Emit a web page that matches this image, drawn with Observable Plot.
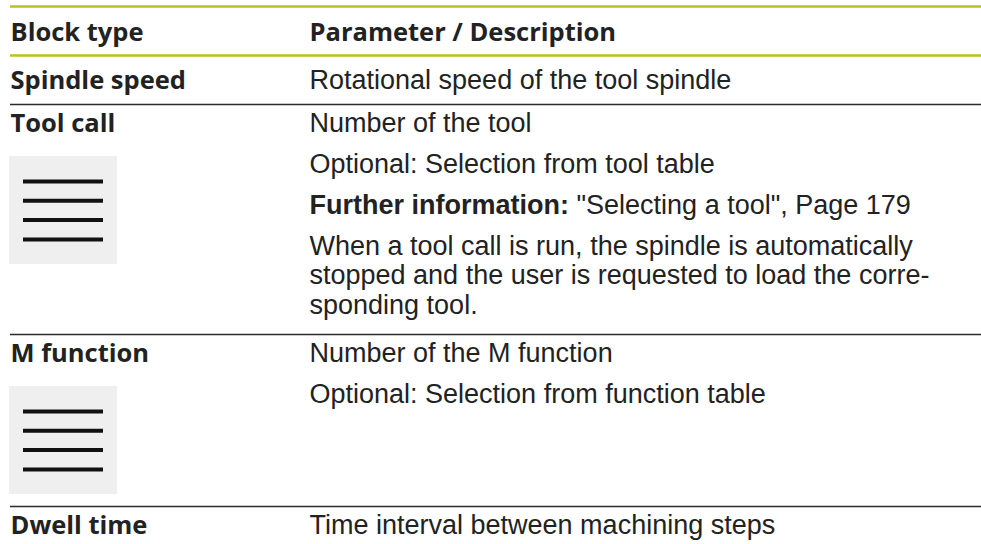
<!DOCTYPE html>
<html>
<head>
<meta charset="utf-8">
<script src="https://cdn.jsdelivr.net/npm/d3@7"></script>
<script src="https://cdn.jsdelivr.net/npm/@observablehq/plot@0.6"></script>
<style>
  html, body { margin: 0; padding: 0; background: #ffffff; }
  #chart svg { display: block; background: #ffffff; }
</style>
</head>
<body>
<div id="chart"></div>
<script>
// ---------- content ----------
const headers = ["Block type", "Parameter / Description"];
const blockTypes = ["Spindle speed", "Tool call", "M function", "Dwell time"];
const hasIcon = [false, true, true, false];
const descriptions = [
  [ {lines: ["Rotational speed of the tool spindle"]} ],
  [ {lines: ["Number of the tool"]},
    {lines: ["Optional: Selection from tool table"]},
    {lead: "Further information:", lines: ['"Selecting a tool", Page 179']},
    {lines: ["When a tool call is run, the spindle is automatically",
             "stopped and the user is requested to load the corre-",
             "sponding tool."]} ],
  [ {lines: ["Number of the M function"]},
    {lines: ["Optional: Selection from function table"]} ],
  [ {lines: ["Time interval between machining steps"]} ]
];
const iconBars = 4;

// ---------- layout ----------
const W = 981, H = 544;
const col1X = 10, col2X = 309, ruleX1 = 10, ruleX2 = W;
const fontSize = 27;
const regFont = "'Liberation Sans', Arial, sans-serif";
const boldFont = "'Open Sans', 'Noto Sans', sans-serif";
const textColor = "#222222";
const green = "#b9c31c";
const topRule = 6, headerBaseline = 40, headerRule = 55;
const padTop = [33, 27, 27, 27], padBottom = [16, 21, 21, 21];
const paraGap = 41, lineGap = 29.5;
const iconOffset = 25, iconSize = 108, iconPadBottom = 12;

const canvas = document.createElement("canvas");
const ctx = canvas.getContext("2d");
function measure(text, font) { ctx.font = font; return ctx.measureText(text).width; }

const leftTexts = [], rightTexts = [], rightBold = [], blackRules = [], iconBoxes = [], iconLines = [];
let y0 = headerRule;
blockTypes.forEach((bt, i) => {
  const first = y0 + padTop[i];
  leftTexts.push({x: col1X, y: first, text: bt});
  let b = first - paraGap;
  descriptions[i].forEach(p => {
    p.lines.forEach((ln, k) => {
      b += k === 0 ? paraGap : lineGap;
      if (p.lead && k === 0) {
        rightBold.push({x: col2X, y: b, text: p.lead});
        const w = measure(p.lead + " ", `bold ${fontSize}px ${regFont}`);
        rightTexts.push({x: col2X + w, y: b, text: ln});
      } else {
        rightTexts.push({x: col2X, y: b, text: ln});
      }
    });
  });
  let bottom = b + padBottom[i];
  if (hasIcon[i]) {
    const top = first + iconOffset;
    iconBoxes.push({x1: 9, x2: 9 + iconSize, y1: top, y2: top + iconSize});
    for (let j = 0; j < iconBars; j++) {
      iconLines.push({y: top + 25 + j * 19.3, x1: 23, x2: 103});
    }
    bottom = Math.max(bottom, top + iconSize + iconPadBottom);
  }
  if (i < blockTypes.length - 1) blackRules.push({y: bottom});
  y0 = bottom;
});
const greenRules = [{y: topRule}, {y: headerRule}];
const headerTexts = [{x: col1X, y: headerBaseline, text: headers[0]}, {x: col2X, y: headerBaseline, text: headers[1]}];

const chart = Plot.plot({
  width: W, height: H,
  margin: 0,
  x: {type: "linear", domain: [0, W], range: [0, W], axis: null},
  y: {type: "linear", domain: [0, H], range: [0, H], axis: null},
  style: {background: "#ffffff", overflow: "visible"},
  marks: [
    Plot.ruleY(greenRules, {y: "y", x1: () => ruleX1, x2: () => ruleX2, stroke: green, strokeWidth: 2.6}),
    Plot.ruleY(blackRules, {y: "y", x1: () => ruleX1, x2: () => ruleX2, stroke: "#2b2b2b", strokeWidth: 1.7}),
    Plot.rect(iconBoxes, {x1: "x1", x2: "x2", y1: "y1", y2: "y2", fill: "#efefef"}),
    Plot.ruleY(iconLines, {y: "y", x1: "x1", x2: "x2", stroke: "#111111", strokeWidth: 4}),
    Plot.text(headerTexts, {x: "x", y: "y", text: "text", textAnchor: "start", lineAnchor: "bottom",
      fontFamily: boldFont, fontWeight: "bold", fontSize: 25.5, fill: textColor}),
    Plot.text(leftTexts, {x: "x", y: "y", text: "text", textAnchor: "start", lineAnchor: "bottom",
      fontFamily: boldFont, fontWeight: "bold", fontSize: 25.5, fill: textColor}),
    Plot.text(rightBold, {x: "x", y: "y", text: "text", textAnchor: "start", lineAnchor: "bottom",
      fontFamily: regFont, fontWeight: "bold", fontSize: fontSize, fill: textColor}),
    Plot.text(rightTexts, {x: "x", y: "y", text: "text", textAnchor: "start", lineAnchor: "bottom",
      fontFamily: regFont, fontSize: fontSize, fill: textColor})
  ]
});
document.getElementById("chart").appendChild(chart);
</script>
</body>
</html>
